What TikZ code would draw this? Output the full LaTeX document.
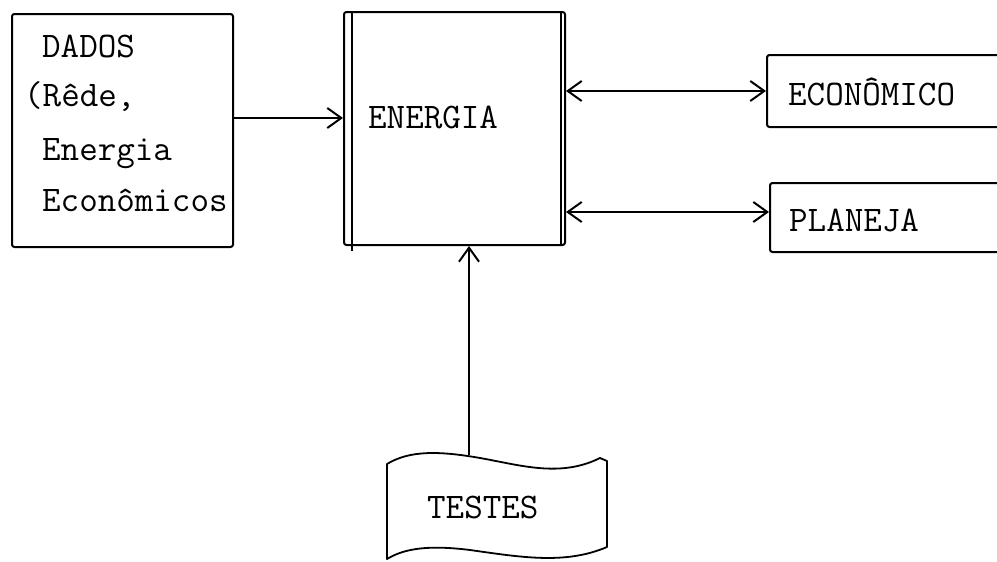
\documentclass[tikz,border=0pt]{standalone}
\usepackage{fontspec}
\usetikzlibrary{arrows.meta}
\begin{document}
\begin{tikzpicture}[x=1pt,y=-1pt,
  box/.style={draw,line width=2pt,rounded corners=2.5pt,inner sep=0pt},
  lbl/.style={font=\ttfamily\fontsize{36}{36}\selectfont,inner sep=0pt,anchor=base west},
  arr/.style={line width=1.8pt,-{Straight Barb[length=14pt,width=20pt,line width=2pt]}},
  darr/.style={line width=1.8pt,{Straight Barb[length=14pt,width=20pt,line width=2pt]}-{Straight Barb[length=14pt,width=20pt,line width=2pt]}}]
\clip (0,0) rectangle (997,562);
\fill[white] (0,0) rectangle (997,562);
% boxes
\node[box,minimum width=221pt,minimum height=233pt] (dados) at (122.5,130.5) {};
\node[box,minimum width=221pt,minimum height=233pt] (energia) at (454.5,128.5) {};
\draw[line width=2pt] ([xshift=9pt]energia.north west) -- ([xshift=9pt,yshift=-5pt]energia.south west);
\draw[line width=2pt] ([xshift=-5pt]energia.north east) -- ([xshift=-5pt]energia.south east);
\node[box,minimum width=240pt,minimum height=72pt] (econ) at (887,91) {};
\node[box,minimum width=236pt,minimum height=69pt] (plan) at (888,217.5) {};
% texts
\node[lbl] (t1) at (42,57) {DADOS};
\node[lbl] (t2) at (24,106) {(Rêde,};
\node[lbl] (t3) at (42,160) {Energia};
\node[lbl] (t4) at (42,211) {Econômicos};
\node[lbl] (t5) at (368,128) {ENERGIA};
\node[lbl] (t6) at (788,105) {ECONÔMICO};
\node[lbl] (t7) at (789,231) {PLANEJA};
\node[lbl] (testes) at (427,518) {TESTES};
% tape
\draw[line width=1.8pt,line join=round]
  (387,464) .. controls (410,450) and (440,451) .. (480,458)
  .. controls (520,465) and (560,478) .. (600,458)
  -- (607,461) -- (607,547)
  .. controls (565,565) and (520,557) .. (470,550)
  .. controls (430,545) and (405,548) .. (387,559) -- cycle;
\coordinate (tapetop) at (469,455);
% connectors
\draw[arr] ([yshift=12.5pt]dados.east) -- ([yshift=10.5pt]energia.west);
\draw[darr] (energia.east |- econ.west) -- (econ.west);
\draw[darr] (energia.east |- 0,212) -- ([yshift=5.5pt]plan.west);
\draw[arr] (tapetop) -- (tapetop |- energia.south);
\end{tikzpicture}
\end{document}
